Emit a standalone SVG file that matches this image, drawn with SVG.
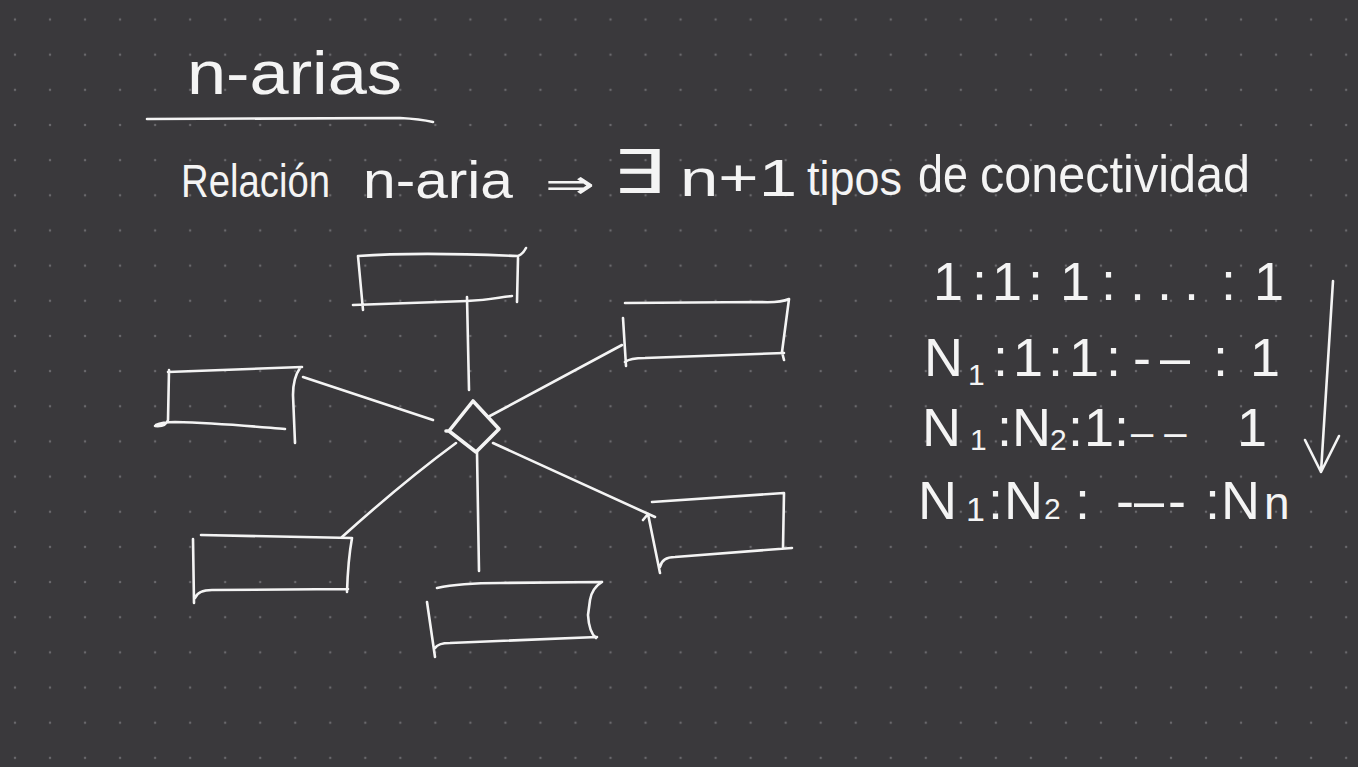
<svg xmlns="http://www.w3.org/2000/svg" width="1358" height="767" viewBox="0 0 1358 767">
<defs>
<pattern id="dots" x="-2.515" y="1.92" width="35.03" height="35.16" patternUnits="userSpaceOnUse">
<circle cx="17.515" cy="17.58" r="1.2" fill="#6a696d"/>
</pattern>
<style>
.ink{fill:none;stroke:#f4f4f4;stroke-width:2.6;stroke-linecap:round;stroke-linejoin:round}
.thick{stroke-width:3.6}
.t{fill:#f4f4f4;font-family:"Liberation Sans",Arial,sans-serif}
.sym{fill:#f4f4f4;font-family:"DejaVu Sans",sans-serif}
</style>
</defs>
<rect width="1358" height="767" fill="#3a393c"/>
<rect width="1358" height="767" fill="url(#dots)"/>

<g id="title">
<text class="t" x="187" y="94" font-size="62" textLength="215" lengthAdjust="spacingAndGlyphs">n-arias</text>
<path class="ink" d="M147 119 L400 118 Q420 119 433 122"/>
</g>

<g id="statement">
<text class="t" x="181" y="197" font-size="46" textLength="149" lengthAdjust="spacingAndGlyphs">Relación</text>
<text class="t" x="363" y="198" font-size="52" textLength="150" lengthAdjust="spacingAndGlyphs">n-aria</text>
<text class="sym" x="545" y="198" font-size="40" textLength="50" lengthAdjust="spacingAndGlyphs">⇒</text>
<text class="sym" x="612" y="193" font-size="60" textLength="53" lengthAdjust="spacingAndGlyphs">∃</text>
<text class="t" x="680" y="196" font-size="52" textLength="117" lengthAdjust="spacingAndGlyphs">n+1</text>
<text class="t" x="807" y="195" font-size="48" textLength="95" lengthAdjust="spacingAndGlyphs">tipos</text>
<text class="t" x="918" y="192" font-size="52" textLength="50" lengthAdjust="spacingAndGlyphs">de</text>
<text class="t" x="980" y="192" font-size="52" textLength="270" lengthAdjust="spacingAndGlyphs">conectividad</text>
</g>

<g id="connectivity-list">
<text class="t" y="300" font-size="54"><tspan x="933">1</tspan><tspan x="972">:</tspan><tspan x="992">1</tspan><tspan x="1028">:</tspan><tspan x="1060">1</tspan><tspan x="1101">:</tspan><tspan x="1130" letter-spacing="12">...</tspan><tspan x="1221">:</tspan><tspan x="1254">1</tspan></text>
<text class="t" y="376" font-size="54"><tspan x="924">N</tspan><tspan x="968" y="385" font-size="30">1</tspan><tspan x="993" y="376">:</tspan><tspan x="1013">1</tspan><tspan x="1048">:</tspan><tspan x="1069">1</tspan><tspan x="1106">:</tspan><tspan x="1133">-</tspan><tspan x="1160">–</tspan><tspan x="1213">:</tspan><tspan x="1250">1</tspan></text>
<text class="t" y="446" font-size="54"><tspan x="922">N</tspan><tspan x="970" y="450" font-size="30">1</tspan><tspan x="997" y="446">:N</tspan><tspan x="1050" y="450" font-size="30">2</tspan><tspan x="1068" y="446">:</tspan><tspan x="1084">1:</tspan><tspan x="1131" font-size="40">– –</tspan><tspan x="1237" font-size="54">1</tspan></text>
<text class="t" y="519" font-size="54"><tspan x="918">N</tspan><tspan x="966" y="521" font-size="34">1</tspan><tspan x="988" y="519">:</tspan><tspan x="1004">N</tspan><tspan x="1044" y="519" font-size="30">2</tspan><tspan x="1075">:</tspan><tspan x="1116">-</tspan><tspan x="1134">–</tspan><tspan x="1168">-</tspan><tspan x="1205">:</tspan><tspan x="1221">N</tspan><tspan x="1264" font-size="46">n</tspan></text>
<path class="ink" d="M1333 281 L1321 472 M1305 440 L1321 472 L1339 436"/>
</g>

<g id="relationship">
<path class="ink thick" d="M473 401 L499 429 L476 452 L449 431 Z M449 431 L446 431"/>
</g>

<g id="entity-top">
<path class="ink" d="M358 256 C400 253 470 254 518 256 Q523 254 526 248 M518 258 L517 302 M358 256 L363 310 M353 305 L467 301 C490 300 500 297 512 296"/>
</g>
<g id="entity-left">
<path class="ink" d="M168 372 L302 367 M169 370 L168 420 Q166 427 155 426 M156 425 Q162 422 175 422 C220 423 260 427 285 429 M300 368 Q293 378 293 395 L295 443"/>
</g>
<g id="entity-top-right">
<path class="ink" d="M625 303 L760 302 Q780 303 789 299 M789 299 L782 352 L784 360 M623 318 L626 366 M625 362 Q630 358 645 358 L784 353"/>
</g>
<g id="entity-bottom-right">
<path class="ink" d="M652 502 L784 493 M643 520 L648 514 L660 573 M660 567 Q662 557 675 557 L792 548 M784 493 L783 548"/>
</g>
<g id="entity-bottom">
<path class="ink" d="M437 588 Q460 583 500 583 L602 582 M602 582 Q592 588 590 600 L588 615 Q589 632 596 638 M427 602 L435 657 M435 648 Q438 643 450 643 L597 637"/>
</g>
<g id="entity-bottom-left">
<path class="ink" d="M201 535 L352 538 M193 539 L194 603 M195 598 Q198 590 212 590 L348 589 M352 538 Q348 560 347 592"/>
</g>

<g id="connectors">
<path class="ink" d="M467 297 L469 390"/>
<path class="ink" d="M303 377 L433 420"/>
<path class="ink" d="M488 417 L622 345"/>
<path class="ink" d="M493 443 L655 517"/>
<path class="ink" d="M477 452 L479 571"/>
<path class="ink" d="M456 443 Q403 482 342 537"/>
</g>
</svg>
